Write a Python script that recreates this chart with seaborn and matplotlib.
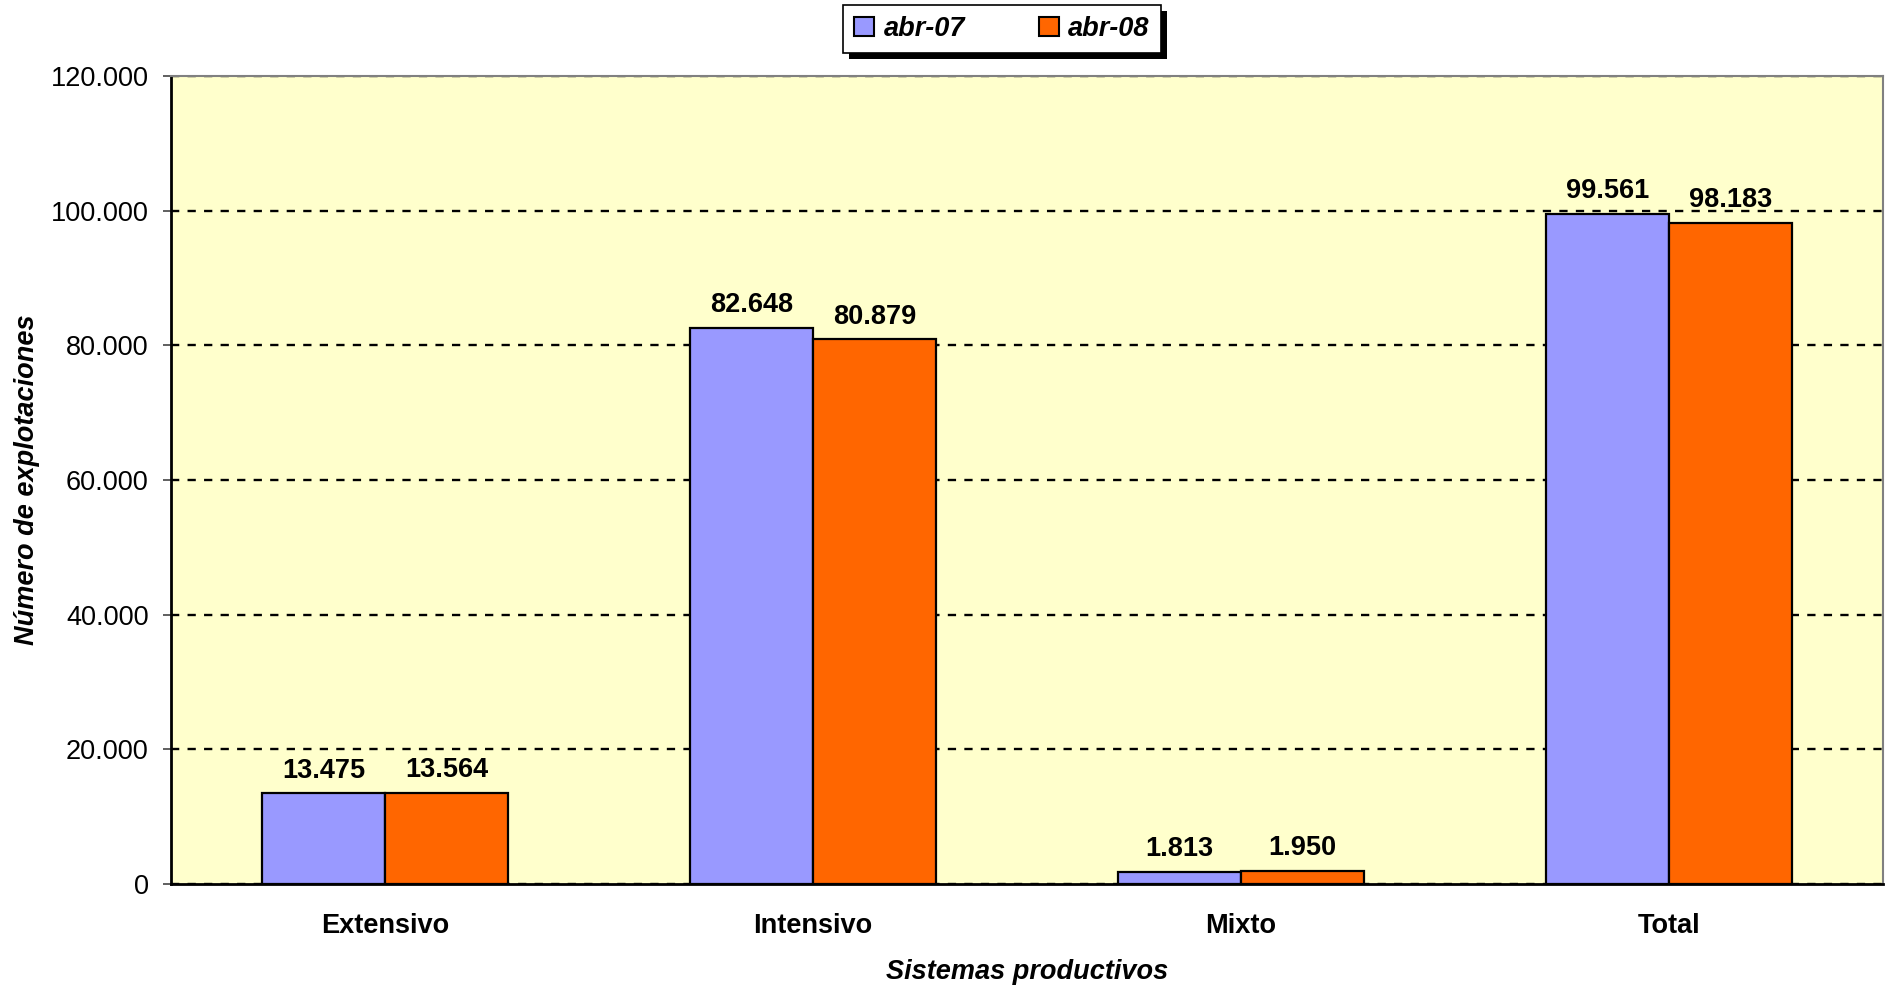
import matplotlib
matplotlib.use("Agg")
import matplotlib.pyplot as plt
import matplotlib.ticker as mticker
from matplotlib.patches import Rectangle, Patch
import seaborn as sns
import pandas as pd

categorias = ["Extensivo", "Intensivo", "Mixto", "Total"]
abr_07 = [13475, 82648, 1813, 99561]
abr_08 = [13564, 80879, 1950, 98183]
series = ["abr-07", "abr-08"]
colores = ["#9999FF", "#FF6600"]

df = pd.DataFrame({
    "sistema": categorias * 2,
    "periodo": [series[0]] * 4 + [series[1]] * 4,
    "valor": abr_07 + abr_08,
})

sns.set_style("white")
plt.rcParams["font.family"] = ["Liberation Sans", "DejaVu Sans"]
plt.rcParams["text.color"] = "black"
plt.rcParams["xtick.color"] = "black"
plt.rcParams["ytick.color"] = "black"
fs = 19.5

fig = plt.figure(figsize=(18.91, 9.86), dpi=100)
ax = fig.add_axes([171 / 1891, 1 - 884 / 986, 1712 / 1891, 808 / 986])
ax.set_facecolor("#FFFFCC")

sns.barplot(data=df, x="sistema", y="valor", hue="periodo", palette=colores,
            saturation=1, width=0.575, edgecolor="black", linewidth=1.6, ax=ax,
            legend=False, zorder=3)

def miles(v, pos=None):
    return f"{v:,.0f}".replace(",", ".")

for cont in ax.containers:
    ax.bar_label(cont, labels=[miles(b.get_height()) for b in cont], padding=7,
                 fontsize=fs, fontweight="bold", color="black")

ax.set_ylim(0, 120000)
ax.set_xlim(-0.5, 3.5)
ax.yaxis.set_major_locator(mticker.MultipleLocator(20000))
ax.yaxis.set_major_formatter(mticker.FuncFormatter(miles))
ax.yaxis.grid(True, color="black", linestyle=(0, (3.5, 3.5)), linewidth=1.7, zorder=1)
ax.set_axisbelow(True)

ax.set_xticks(range(4))
ax.set_xticklabels(categorias, fontsize=fs, fontweight="bold")
ax.set_xticks([-0.5, 0.5, 1.5, 2.5, 3.5], minor=True)
ax.tick_params(axis="x", which="major", length=0, pad=21, labelcolor="black")
ax.tick_params(axis="x", which="minor", length=6, width=1.2, color="#444444",
               direction="out")
ax.tick_params(axis="y", length=6, width=1.2, color="#444444", direction="out",
               labelsize=fs, pad=10, left=True, labelcolor="black")

for s in ["left", "bottom"]:
    ax.spines[s].set_color("black")
    ax.spines[s].set_linewidth(2)
for s in ["top", "right"]:
    ax.spines[s].set_color("#808080")
    ax.spines[s].set_linewidth(1.5)

ax.set_xlabel("")
ax.set_ylabel("")
fig.text(27 / 1891, 1 - 480 / 986, "Número de explotaciones", rotation=90,
         ha="center", va="center", fontsize=fs, fontweight="bold", style="italic")
fig.text(1027 / 1891, 1 - 972 / 986, "Sistemas productivos", ha="center",
         va="center", fontsize=fs, fontweight="bold", style="italic")

handles = [Patch(facecolor=c, edgecolor="black", linewidth=1.5) for c in colores]
leg = fig.legend(handles, series, loc="center", bbox_to_anchor=(1002 / 1891, 1 - 29 / 986),
                 ncol=2, frameon=True, fancybox=False, framealpha=1, facecolor="white",
                 handlelength=0.75, handleheight=0.75, handletextpad=0.35,
                 columnspacing=2.7, borderpad=0.4, borderaxespad=0,
                 prop={"size": fs, "weight": "bold", "style": "italic"})
leg.get_frame().set_edgecolor("black")
leg.get_frame().set_linewidth(1.2)
leg.set_zorder(6)
for t in leg.get_texts():
    t.set_color("black")

fig.canvas.draw()
bb = leg.get_window_extent()
sombra = Rectangle((bb.x0 + 6, bb.y0 - 6), bb.width, bb.height, transform=None,
                   facecolor="black", edgecolor="none", zorder=5)
fig.patches.append(sombra)

fig.savefig("out.png", dpi=100)
